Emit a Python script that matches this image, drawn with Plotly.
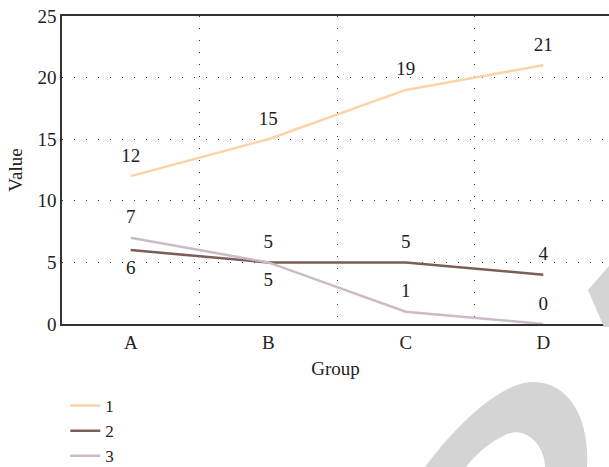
import plotly.graph_objects as go

groups = ["A", "B", "C", "D"]
series_names = ["1", "2", "3"]
values_1 = [12, 15, 19, 21]
values_2 = [6, 5, 5, 4]
values_3 = [7, 5, 1, 0]
colors = ["#FAD4A6", "#7A5E58", "#CBBBC7"]
text_pos_1 = ["top center"] * 4
text_pos_2 = ["bottom center", "top center", "top center", "top center"]
text_pos_3 = ["top center", "bottom center", "top center", "top center"]

FONT = "Liberation Serif"
W, H = 609, 467
L, R, T, B = 62, 0, 16, 143

fig = go.Figure()
for name, vals, col, tp in zip(series_names, [values_1, values_2, values_3], colors,
                               [text_pos_1, text_pos_2, text_pos_3]):
    fig.add_trace(go.Scatter(
        x=groups, y=vals, name=name, mode="lines+markers+text",
        line=dict(color=col, width=2.5),
        marker=dict(size=14, color="rgba(0,0,0,0)", line=dict(width=0)),
        text=[str(v) for v in vals], textposition=tp,
        textfont=dict(family=FONT, size=19, color="#222"),
        cliponaxis=False,
    ))

# watermark (decorative) in pixel coordinates -> paper coords
pw, ph = W - L - R, H - T - B
def P(x, y):
    return f"{(x - L) / pw:.4f},{(H - B - y) / ph:.4f}"

arc = (f"M {P(425,467)} C {P(460,420)} {P(500,385)} {P(530,382)} "
       f"C {P(570,380)} {P(590,420)} {P(587,467)} L {P(545,467)} "
       f"C {P(545,445)} {P(525,425)} {P(505,435)} C {P(490,442)} {P(475,455)} {P(466,467)} Z")
tri = f"M {P(609,266)} L {P(588,290)} L {P(604,327)} L {P(609,327)} Z"
shapes = [dict(type="path", path=p, xref="paper", yref="paper",
               fillcolor="#D4D4D4", line=dict(width=0), layer="above") for p in (arc, tri)]

fig.update_layout(
    width=W, height=H,
    margin=dict(l=L, r=R, t=T, b=B, autoexpand=False),
    paper_bgcolor="white", plot_bgcolor="white",
    font=dict(family=FONT, size=19, color="#222"),
    showlegend=True,
    legend=dict(x=0.006, y=-0.208, xanchor="left", yanchor="top",
                font=dict(family=FONT, size=17, color="#222"),
                tracegroupgap=0, bgcolor="rgba(0,0,0,0)"),
    shapes=shapes,
)
fig.update_xaxes(
    type="category", range=[-0.5, 3.478], tickson="boundaries",
    showgrid=True, gridcolor="#333", gridwidth=1, griddash="1px,11px",
    showline=True, linecolor="#333", linewidth=1.5, mirror=True,
    ticks="", zeroline=False, automargin=False,
    tickfont=dict(family=FONT, size=19, color="#222"),
    title=dict(text="Group", standoff=10, font=dict(family=FONT, size=19, color="#222")),
)
fig.update_yaxes(
    range=[0, 25], dtick=5,
    showgrid=True, gridcolor="#333", gridwidth=1, griddash="1px,11px",
    showline=True, linecolor="#333", linewidth=1.5, mirror=True,
    ticks="", zeroline=False, automargin=False,
    tickfont=dict(family=FONT, size=19, color="#222"),
    title=dict(text="Value", standoff=10, font=dict(family=FONT, size=19, color="#222")),
)
fig.write_html("out.html", config={"displayModeBar": False},
               post_script="document.body.style.margin='0';document.body.style.overflow='hidden';")
